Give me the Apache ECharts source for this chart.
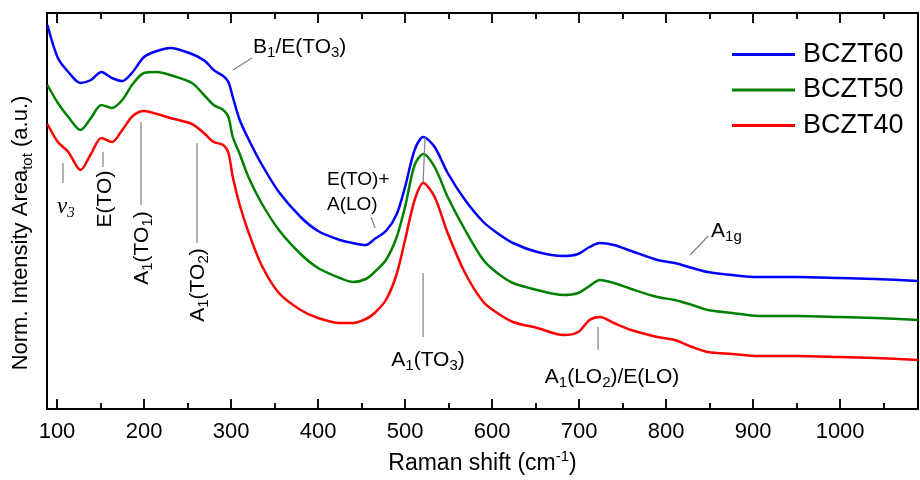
<!DOCTYPE html>
<html>
<head>
<meta charset="utf-8">
<script src="https://cdn.jsdelivr.net/npm/echarts@6/dist/echarts.min.js"></script>
<style>
  html, body { margin: 0; padding: 0; background: #fff; }
  #chart { width: 920px; height: 480px; }
</style>
</head>
<body>
<div id="chart"></div>
<script>
// Raman shift (cm-1) sample points
const shift = [89, 101, 113, 127, 139, 151, 163, 175, 187, 200, 215, 230, 255, 270, 280, 291, 297, 302, 310, 320,
  335, 355, 380, 400, 425, 440, 455, 465, 478, 490, 500, 511, 521, 534, 549, 569, 590, 606, 624, 652,
  682, 699, 712, 724, 740, 760, 790, 810, 830, 848, 876, 906, 950, 1000, 1040, 1090]
// normalized intensity (offset, arbitrary units)
const bczt60 = [384, 351, 337, 326, 329, 337, 331, 328, 337, 352, 358, 361, 355, 348, 339, 333, 327, 312, 289, 270,
  245, 217, 192, 178, 169, 166, 164, 170, 178, 194, 222, 259, 272, 262, 236, 209, 187, 176, 166, 157,
  153, 155, 162, 166, 164, 158, 149, 146, 141, 137, 134, 132, 132, 131, 130, 128]
const bczt50 = [324, 306, 292, 279, 291, 304, 301, 309, 325, 336, 337, 334, 326, 313, 304, 299, 292, 272, 255, 232,
  206, 179, 155, 141, 131, 127, 130, 137, 149, 171, 202, 244, 255, 242, 212, 179, 149, 136, 126, 119,
  114, 116, 123, 129, 126, 120, 112, 109, 104, 99, 96, 93, 93, 92, 91, 89]
const bczt40 = [285, 267, 257, 239, 255, 271, 267, 279, 293, 298, 295, 291, 285, 275, 267, 264, 256, 232, 204, 177,
  144, 116, 99, 91, 86, 86, 90, 96, 109, 134, 169, 209, 226, 212, 176, 136, 107, 96, 87, 81,
  74, 77, 89, 92, 86, 79, 72, 69, 62, 57, 55, 53, 53, 52, 51, 49]
const seriesNames = ['BCZT60', 'BCZT50', 'BCZT40']
const seriesColors = ['#0000ff', '#008000', '#ff0000']
const majorTicks = [100, 200, 300, 400, 500, 600, 700, 800, 900, 1000]
const minorTicks = [150, 250, 350, 450, 550, 650, 750, 850, 950, 1050]

const FONT = 'Liberation Sans, Arial, sans-serif'
const X_MIN = 88.5
const X_MAX = 1089.5
const Y_MAX = 396

const chart = echarts.init(document.getElementById('chart'), null, { renderer: 'canvas' })

const pairs = (ys) => shift.map((x, i) => [x, ys[i]])

// rich styles: n = normal, s = subscript, p = superscript, i/is = italic greek
const richFor = (size, sub) => ({
  n: { fontSize: size, fontFamily: FONT, color: '#000', lineHeight: size + 6, verticalAlign: 'middle' },
  s: { fontSize: sub, fontFamily: FONT, color: '#000', lineHeight: sub, verticalAlign: 'bottom' },
  p: { fontSize: sub, fontFamily: FONT, color: '#000', lineHeight: sub, verticalAlign: 'top' },
  i: { fontSize: size + 2, fontFamily: 'Liberation Serif, serif', fontStyle: 'italic', color: '#000', lineHeight: size + 6, verticalAlign: 'middle' },
  is: { fontSize: sub, fontFamily: 'Liberation Serif, serif', fontStyle: 'italic', color: '#000', lineHeight: sub, verticalAlign: 'bottom' },
})

const frameLine = { show: true, onZero: false, lineStyle: { color: '#000', width: 2 } }

// inward frame ticks as mark lines (1 y unit = 1 px here)
const tickPairs = []
majorTicks.concat(minorTicks).forEach((t) => {
  const len = t % 100 === 0 ? 10 : 6
  tickPairs.push([{ coord: [t, 0] }, { coord: [t, len] }])
  tickPairs.push([{ coord: [t, Y_MAX] }, { coord: [t, Y_MAX - len] }])
})

const option = {
  animation: false,
  backgroundColor: '#fff',
  grid: { left: 47, right: 2, top: 13, bottom: 71 },
  legend: {
    orient: 'vertical',
    left: 727,
    top: 36,
    icon: 'rect',
    itemWidth: 63,
    itemHeight: 3,
    itemGap: 8.5,
    data: seriesNames,
    textStyle: { fontSize: 27, fontFamily: FONT, color: '#000', lineHeight: 26, padding: [0, 0, 0, 3] },
  },
  xAxis: [
    {
      type: 'value',
      position: 'bottom',
      min: X_MIN,
      max: X_MAX,
      axisLine: frameLine,
      axisTick: { show: false },
      axisLabel: {
        show: true,
        customValues: majorTicks,
        formatter: (v) => String(v),
        color: '#000',
        fontSize: 22,
        fontFamily: FONT,
        margin: 12,
      },
      splitLine: { show: false },
      name: '{n|Raman shift (cm}{p|-1}{n|)}',
      nameLocation: 'middle',
      nameGap: 40,
      nameTextStyle: { rich: richFor(23, 15) },
    },
    {
      type: 'value',
      position: 'top',
      min: X_MIN,
      max: X_MAX,
      axisLine: frameLine,
      axisTick: { show: false },
      axisLabel: { show: false },
      splitLine: { show: false },
    },
  ],
  yAxis: [
    {
      type: 'value',
      position: 'left',
      min: 0,
      max: Y_MAX,
      axisLine: frameLine,
      axisTick: { show: false },
      axisLabel: { show: false },
      splitLine: { show: false },
      name: '{n|Norm. Intensity Area}{s|tot}{n| (a.u.)}',
      nameLocation: 'middle',
      nameGap: 12,
      nameTextStyle: { rich: richFor(22, 15), padding: [0, 44, 0, 0] },
    },
    {
      type: 'value',
      position: 'right',
      min: 0,
      max: Y_MAX,
      axisLine: frameLine,
      axisTick: { show: false },
      axisLabel: { show: false },
      splitLine: { show: false },
    },
  ],
  series: [bczt60, bczt50, bczt40].map((ys, i) => ({
    name: seriesNames[i],
    type: 'line',
    xAxisIndex: 0,
    yAxisIndex: 0,
    data: pairs(ys),
    smooth: 0.3,
    symbol: 'none',
    showSymbol: false,
    lineStyle: { color: seriesColors[i], width: 2.5 },
    itemStyle: { color: seriesColors[i] },
  })),
}

option.series[0].markLine = {
  silent: true,
  symbol: ['none', 'none'],
  label: { show: false },
  emphasis: { disabled: true },
  animation: false,
  z: 20,
  lineStyle: { color: '#111', width: 2, type: 'solid', opacity: 1 },
  data: tickPairs,
}

chart.setOption(option)

// annotations placed in data coordinates
const P = (r, v) => chart.convertToPixel({ xAxisIndex: 0, yAxisIndex: 0 }, [r, v])
const leader = (a, b) => {
  const p = P(a[0], a[1])
  const q = P(b[0], b[1])
  return {
    type: 'line',
    silent: true,
    z: 100,
    shape: { x1: p[0], y1: p[1], x2: q[0], y2: q[1] },
    style: { stroke: '#808080', lineWidth: 1.2 },
  }
}
const note = (r, v, text, opts) => {
  const o = opts || {}
  const p = P(r, v)
  return {
    type: 'text',
    silent: true,
    x: p[0],
    y: p[1],
    rotation: o.rotate ? Math.PI / 2 : 0,
    style: {
      text,
      rich: richFor(o.size || 21, o.sub || 15),
      align: o.align || 'center',
      verticalAlign: 'middle',
      fill: '#000',
      fontSize: o.size || 21,
      fontFamily: FONT,
    },
  }
}

const notes = [
  leader([106.9, 246], [106.9, 226]),
  note(110.3, 202, '{i|ν}{is|3}'),
  leader([152.9, 257], [152.9, 242]),
  note(155.2, 210, '{n|E(TO)}', { rotate: true }),
  leader([196.5, 287], [196.5, 204]),
  note(197.7, 161, '{n|A}{s|1}{n|(TO}{s|1}{n|)}', { rotate: true }),
  leader([260.9, 266], [260.9, 166]),
  note(262, 124, '{n|A}{s|1}{n|(TO}{s|2}{n|)}', { rotate: true }),
  leader([302.3, 339], [324.1, 351]),
  note(325.3, 362, '{n|B}{s|1}{n|/E(TO}{s|3}{n|)}', { align: 'left' }),
  note(410.3, 229, 'E(TO)+', { align: 'left', size: 19 }),
  note(410.3, 204, 'A(LO)', { align: 'left', size: 19 }),
  leader([460.9, 192], [465.5, 181]),
  leader([523, 272], [520.7, 227]),
  leader([520.7, 136], [520.7, 72]),
  note(526.4, 49, '{n|A}{s|1}{n|(TO}{s|3}{n|)}'),
  leader([721.8, 82], [721.8, 59]),
  note(737.9, 32, '{n|A}{s|1}{n|(LO}{s|2}{n|)/E(LO)}'),
  leader([827.6, 154], [848.3, 173]),
  note(851.7, 178, '{n|A}{s|1g}', { align: 'left' }),
]

chart.setOption({ graphic: notes })
</script>
</body>
</html>
